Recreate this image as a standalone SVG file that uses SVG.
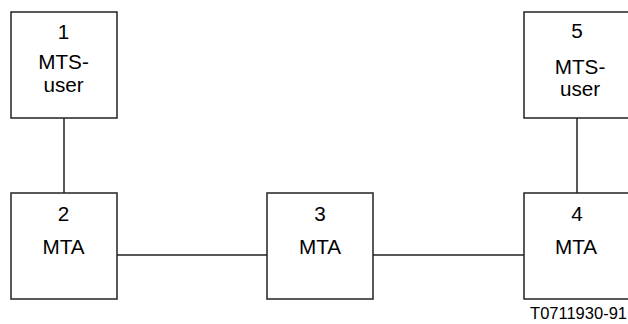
<svg xmlns="http://www.w3.org/2000/svg" width="628" height="324" viewBox="0 0 628 324">
  <style>
    .box { fill: #ffffff; stroke: #222222; stroke-width: 1.5; }
    .link { stroke: #222222; stroke-width: 1.5; fill: none; }
    .lbl { font-family: "Liberation Sans", Arial, sans-serif; font-size: 20.7px; fill: #000000; text-anchor: middle; }
    .ref { font-family: "Liberation Sans", Arial, sans-serif; font-size: 16.5px; fill: #000000; text-anchor: end; }
  </style>
  <rect width="628" height="324" fill="#ffffff"/>

  <!-- connectors -->
  <g id="connectors">
    <line class="link" x1="64" y1="118" x2="64" y2="193"/>
    <line class="link" x1="117" y1="255" x2="267" y2="255"/>
    <line class="link" x1="373" y1="255" x2="524" y2="255"/>
    <line class="link" x1="577" y1="118" x2="577" y2="193"/>
  </g>

  <!-- 1: MTS-user -->
  <g id="node1">
    <rect class="box" x="11" y="12" width="106" height="106"/>
    <text class="lbl" x="63.5" y="39">1</text>
    <text class="lbl" x="63.5" y="68.5">MTS-</text>
    <text class="lbl" x="63.5" y="91.5">user</text>
  </g>

  <!-- 2: MTA -->
  <g id="node2">
    <rect class="box" x="11" y="193" width="106" height="106"/>
    <text class="lbl" x="63.5" y="221">2</text>
    <text class="lbl" x="63.5" y="254">MTA</text>
  </g>

  <!-- 3: MTA -->
  <g id="node3">
    <rect class="box" x="267" y="193" width="106" height="106"/>
    <text class="lbl" x="320" y="221">3</text>
    <text class="lbl" x="320" y="254">MTA</text>
  </g>

  <!-- 4: MTA -->
  <g id="node4">
    <rect class="box" x="524" y="193" width="106" height="106"/>
    <text class="lbl" x="577" y="221">4</text>
    <text class="lbl" x="576" y="254">MTA</text>
  </g>

  <!-- 5: MTS-user -->
  <g id="node5">
    <rect class="box" x="524" y="12" width="106" height="106"/>
    <text class="lbl" x="577" y="38">5</text>
    <text class="lbl" x="580" y="74">MTS-</text>
    <text class="lbl" x="580" y="96">user</text>
  </g>

  <text class="ref" x="627" y="319">T0711930-91</text>
</svg>
